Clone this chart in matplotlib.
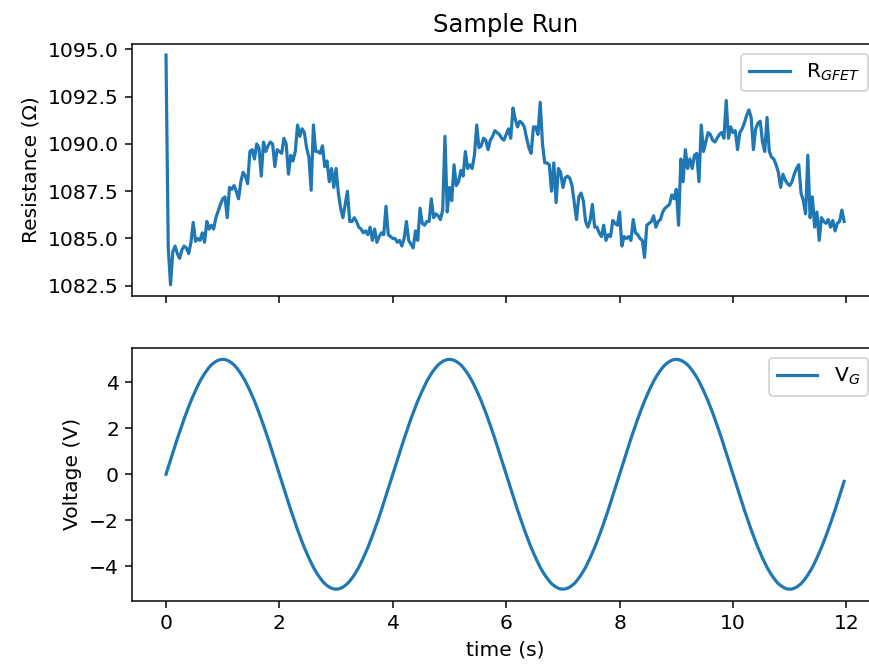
#!/usr/bin/env python3
# -*- coding: utf-8 -*-
import numpy as np
from matplotlib import pyplot as plt

# sample period of the logger (s)
sample_dt = 0.04

# GFET resistance readings (Ohm), one per sample
resistance = [
    1094.7, 1084.5, 1082.55, 1084.3, 1084.6, 1084.2, 1083.95, 1084.4, 1084.6, 1084.5,
    1084.2, 1084.8, 1085.85, 1084.85, 1085.0, 1084.9, 1085.3, 1084.8, 1085.9, 1085.5,
    1085.7, 1085.5, 1086.1, 1086.45, 1086.8, 1087.1, 1087.2, 1086.1, 1087.7, 1087.6,
    1087.8, 1087.5, 1087.1, 1088.0, 1088.5, 1088.3, 1087.9, 1089.6, 1089.7, 1089.2,
    1090.0, 1089.8, 1088.3, 1090.1, 1089.6, 1089.9, 1090.1, 1090.0, 1088.8, 1089.7,
    1089.6, 1089.5, 1090.3, 1090.0, 1088.4, 1089.4, 1089.1, 1089.6, 1091.0, 1090.4,
    1090.8, 1090.6, 1089.8, 1089.3, 1087.55, 1091.0, 1089.6, 1089.6, 1089.5, 1089.9,
    1088.8, 1089.1, 1088.0, 1088.7, 1087.7, 1088.7, 1087.4, 1086.6, 1086.1, 1086.8,
    1087.5, 1085.9, 1085.9, 1086.1, 1085.9, 1085.6, 1085.5, 1085.3, 1085.4, 1085.2,
    1085.6, 1084.9, 1085.5, 1084.8, 1085.1, 1085.3, 1085.2, 1086.7, 1085.2, 1085.1,
    1085.0, 1085.0, 1084.8, 1084.9, 1084.6, 1085.0, 1085.9, 1084.9, 1084.7, 1084.5,
    1085.4, 1084.9, 1086.6, 1085.8, 1085.7, 1085.9, 1085.9, 1087.1, 1086.1, 1086.3,
    1086.2, 1086.0, 1086.5, 1090.4, 1086.4, 1087.7, 1087.0, 1088.9, 1087.8, 1088.0,
    1088.6, 1088.3, 1089.6, 1088.7, 1088.9, 1088.7, 1089.4, 1091.0, 1089.8, 1089.9,
    1090.3, 1090.2, 1089.7, 1090.2, 1090.4, 1090.7, 1090.6, 1090.5, 1090.3, 1090.2,
    1090.5, 1090.8, 1090.3, 1091.9, 1091.3, 1090.9, 1091.2, 1091.1, 1090.9, 1090.3,
    1089.8, 1089.5, 1090.9, 1090.9, 1090.5, 1092.2, 1090.0, 1089.0, 1089.0, 1088.9,
    1087.5, 1089.0, 1086.9, 1088.7, 1088.5, 1087.7, 1088.2, 1088.3, 1088.2, 1087.8,
    1086.9, 1086.0, 1087.2, 1087.4, 1087.0, 1085.9, 1085.6, 1085.95, 1086.8, 1085.6,
    1085.6, 1085.3, 1085.1, 1085.7, 1084.9, 1085.2, 1085.1, 1085.95, 1085.8, 1085.7,
    1086.4, 1084.6, 1085.1, 1085.0, 1085.1, 1084.9, 1086.0, 1085.3, 1085.2, 1085.0,
    1084.9, 1084.0, 1085.7, 1085.8, 1085.9, 1086.2, 1085.6, 1085.9, 1086.0, 1086.4,
    1086.6, 1086.7, 1086.8, 1087.3, 1087.1, 1087.6, 1085.7, 1089.2, 1088.0, 1089.7,
    1088.7, 1089.2, 1088.7, 1089.4, 1089.5, 1088.0, 1091.0, 1089.6, 1090.1, 1090.6,
    1090.5, 1090.2, 1090.1, 1090.3, 1090.5, 1090.6, 1090.3, 1092.3, 1090.3, 1090.9,
    1090.6, 1090.7, 1089.7, 1090.6, 1090.8, 1091.1, 1091.5, 1091.8, 1091.4, 1089.7,
    1090.8, 1091.1, 1091.2, 1090.1, 1089.6, 1091.4, 1089.6, 1089.3, 1089.2, 1088.9,
    1088.5, 1087.7, 1088.4, 1088.1, 1087.9, 1087.8, 1088.0, 1088.4, 1088.7, 1088.9,
    1087.4, 1087.0, 1086.3, 1089.4, 1086.1, 1087.2, 1085.6, 1086.4, 1084.9, 1086.1,
    1085.9, 1085.8, 1086.0, 1085.6, 1085.95, 1085.4, 1085.8, 1085.9, 1086.5, 1085.9,
]

# applied gate voltage (V), same samples, one quarter period per row
gate_voltage = [
    0.00, 0.31, 0.63, 0.94, 1.24, 1.55, 1.84, 2.13, 2.41, 2.68, 2.94, 3.19, 3.42, 3.64, 3.85, 4.05, 4.22, 4.38, 4.52, 4.65, 4.76, 4.84, 4.91, 4.96, 4.99,
    5.00, 4.99, 4.96, 4.91, 4.84, 4.76, 4.65, 4.52, 4.38, 4.22, 4.05, 3.85, 3.64, 3.42, 3.19, 2.94, 2.68, 2.41, 2.13, 1.84, 1.55, 1.24, 0.94, 0.63, 0.31,
    0.00, -0.31, -0.63, -0.94, -1.24, -1.55, -1.84, -2.13, -2.41, -2.68, -2.94, -3.19, -3.42, -3.64, -3.85, -4.05, -4.22, -4.38, -4.52, -4.65, -4.76, -4.84, -4.91, -4.96, -4.99,
    -5.00, -4.99, -4.96, -4.91, -4.84, -4.76, -4.65, -4.52, -4.38, -4.22, -4.05, -3.85, -3.64, -3.42, -3.19, -2.94, -2.68, -2.41, -2.13, -1.84, -1.55, -1.24, -0.94, -0.63, -0.31,
    0.00, 0.31, 0.63, 0.94, 1.24, 1.55, 1.84, 2.13, 2.41, 2.68, 2.94, 3.19, 3.42, 3.64, 3.85, 4.05, 4.22, 4.38, 4.52, 4.65, 4.76, 4.84, 4.91, 4.96, 4.99,
    5.00, 4.99, 4.96, 4.91, 4.84, 4.76, 4.65, 4.52, 4.38, 4.22, 4.05, 3.85, 3.64, 3.42, 3.19, 2.94, 2.68, 2.41, 2.13, 1.84, 1.55, 1.24, 0.94, 0.63, 0.31,
    0.00, -0.31, -0.63, -0.94, -1.24, -1.55, -1.84, -2.13, -2.41, -2.68, -2.94, -3.19, -3.42, -3.64, -3.85, -4.05, -4.22, -4.38, -4.52, -4.65, -4.76, -4.84, -4.91, -4.96, -4.99,
    -5.00, -4.99, -4.96, -4.91, -4.84, -4.76, -4.65, -4.52, -4.38, -4.22, -4.05, -3.85, -3.64, -3.42, -3.19, -2.94, -2.68, -2.41, -2.13, -1.84, -1.55, -1.24, -0.94, -0.63, -0.31,
    0.00, 0.31, 0.63, 0.94, 1.24, 1.55, 1.84, 2.13, 2.41, 2.68, 2.94, 3.19, 3.42, 3.64, 3.85, 4.05, 4.22, 4.38, 4.52, 4.65, 4.76, 4.84, 4.91, 4.96, 4.99,
    5.00, 4.99, 4.96, 4.91, 4.84, 4.76, 4.65, 4.52, 4.38, 4.22, 4.05, 3.85, 3.64, 3.42, 3.19, 2.94, 2.68, 2.41, 2.13, 1.84, 1.55, 1.24, 0.94, 0.63, 0.31,
    0.00, -0.31, -0.63, -0.94, -1.24, -1.55, -1.84, -2.13, -2.41, -2.68, -2.94, -3.19, -3.42, -3.64, -3.85, -4.05, -4.22, -4.38, -4.52, -4.65, -4.76, -4.84, -4.91, -4.96, -4.99,
    -5.00, -4.99, -4.96, -4.91, -4.84, -4.76, -4.65, -4.52, -4.38, -4.22, -4.05, -3.85, -3.64, -3.42, -3.19, -2.94, -2.68, -2.41, -2.13, -1.84, -1.55, -1.24, -0.94, -0.63, -0.31,
]


def main():
    time = np.arange(len(resistance)) * sample_dt

    plt.rcParams["font.size"] = 10.8
    plt.rcParams["lines.linewidth"] = 1.7

    dpi = 135
    fig, (ax1, ax2) = plt.subplots(2, 1, sharex=True, figsize=(869 / dpi, 670 / dpi), dpi=dpi)
    # right edge sits past the canvas, like the cropped original
    fig.subplots_adjust(left=0.152, right=1.0104, top=0.935, bottom=0.1035, hspace=0.204)

    ax1.plot(time, resistance, label="R$_{GFET}$")
    ax1.set_title("Sample Run")
    ax1.set_ylabel("Resistance (Ω)")
    ax1.legend(loc="upper right")

    ax2.plot(time, gate_voltage, label="V$_G$")
    ax2.set_ylabel("Voltage (V)")
    ax2.set_xlabel("time (s)")
    ax2.legend(loc="upper right")

    fig.savefig("out.png", dpi=dpi)


if __name__ == "__main__":
    main()
